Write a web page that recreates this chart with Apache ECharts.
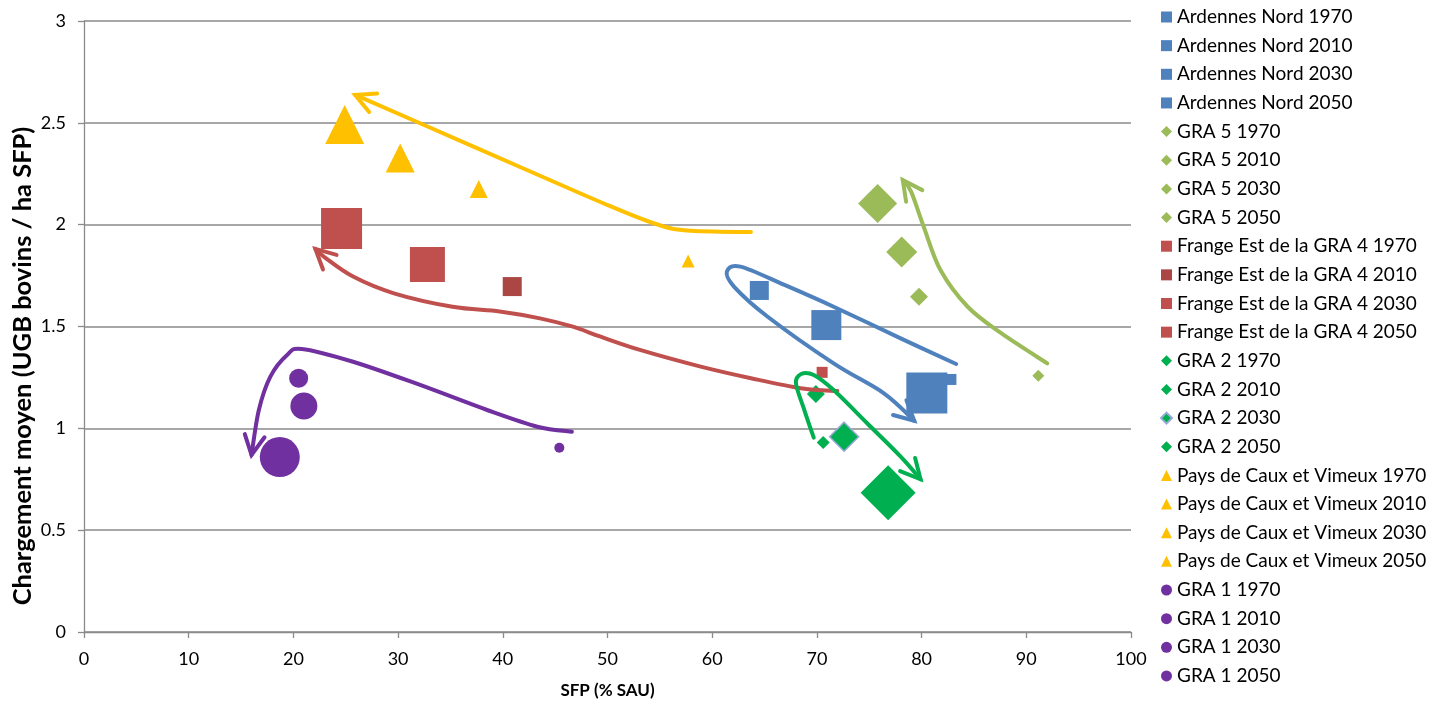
<!DOCTYPE html>
<html>
<head>
<meta charset="utf-8">
<script src="https://cdn.jsdelivr.net/npm/echarts@6/dist/echarts.min.js"></script>
<style>
html,body{margin:0;padding:0;background:#fff;}
#chart{width:1445px;height:708px;}
</style>
</head>
<body>
<div id="chart"></div>
<script>
// ---- Data ----
const years = ['1970', '2010', '2030', '2050'];

const ardennesX = [82.8, 64.5, 70.9, 80.5];
const ardennesY = [1.24, 1.677, 1.507, 1.173];
const ardennesSize = [11, 19, 30, 41];

const gra5X = [91.15, 79.75, 78.1, 75.8];
const gra5Y = [1.258, 1.646, 1.866, 2.104];
const gra5Size = [12, 18, 31, 39];

const frangeX = [70.5, 40.9, 32.8, 24.6];
const frangeY = [1.275, 1.696, 1.804, 1.981];
const frangeSize = [11, 19, 35, 41];

const gra2X = [70.6, 69.9, 72.6, 76.8];
const gra2Y = [0.931, 1.169, 0.959, 0.684];
const gra2Size = [13, 18, 29, 55];

const cauxX = [57.7, 37.7, 30.2, 24.9];
const cauxY = [1.821, 2.175, 2.327, 2.492];
const cauxSize = [13, 18, 29, 39];

const gra1X = [45.4, 20.5, 21.0, 18.7];
const gra1Y = [0.905, 1.246, 1.110, 0.859];
const gra1Size = [10, 19, 27, 40];

const xTicks = [0, 10, 20, 30, 40, 50, 60, 70, 80, 90, 100];
const yTicks = [0, 0.5, 1, 1.5, 2, 2.5, 3];

// Hand-drawn trajectory arrows (data coordinates)
const arrowCaux = [[63.7,1.964],[57.6,1.971],[54.4,2.007],[49.6,2.105],[41.7,2.282],[32.1,2.498],[25.9,2.637]];
const arrowFrange = [[71.95,1.183],[68.45,1.197],[63.7,1.246],[58.9,1.303],[53.1,1.385],[49.28,1.451],[46.7,1.499],[43.55,1.540],[39.7,1.574],[35.2,1.597],[29.6,1.663],[25.7,1.745],[22.9,1.843],[22.1,1.881]];
const arrowGra1 = [[46.6,0.983],[43.3,1.008],[38.5,1.090],[32.1,1.213],[25.7,1.327],[20.8,1.390],[19.4,1.360],[17.8,1.254],[16.7,1.090],[16.0,0.869]];
const arrowArdennes = [[83.3,1.316],[78.0,1.442],[71.6,1.597],[66.9,1.704],[62.7,1.794],[61.4,1.769],[62.1,1.695],[65.3,1.548],[71.6,1.319],[76.4,1.172],[79.3,1.037]];
const arrowGra2 = [[69.7,0.954],[68.8,1.090],[68.0,1.221],[68.5,1.267],[69.7,1.262],[71.6,1.188],[74.8,1.025],[78.0,0.861],[79.9,0.750]];
const arrowGra5 = [[92.0,1.319],[87.6,1.467],[84.4,1.597],[81.8,1.777],[80.2,1.990],[79.0,2.162],[78.2,2.219]];

// ---- Build ----
const FONT = 'Lato';
const groups = [
  {name: 'Ardennes Nord', xs: ardennesX, ys: ardennesY, sizes: ardennesSize, symbol: 'rect', colors: ['#4F81BD','#4F81BD','#4F81BD','#4F81BD']},
  {name: 'GRA 5', xs: gra5X, ys: gra5Y, sizes: gra5Size, symbol: 'diamond', colors: ['#9BBB59','#9BBB59','#9BBB59','#9BBB59']},
  {name: 'Frange Est de la GRA 4', xs: frangeX, ys: frangeY, sizes: frangeSize, symbol: 'rect', colors: ['#C0504D','#AA4643','#C0504D','#C0504D']},
  {name: 'GRA 2', xs: gra2X, ys: gra2Y, sizes: gra2Size, symbol: 'diamond', colors: ['#00B050','#00B050','#00B050','#00B050']},
  {name: 'Pays de Caux et Vimeux', xs: cauxX, ys: cauxY, sizes: cauxSize, symbol: 'triangle', colors: ['#FFC000','#FFC000','#FFC000','#FFC000']},
  {name: 'GRA 1', xs: gra1X, ys: gra1Y, sizes: gra1Size, symbol: 'circle', colors: ['#7030A0','#7030A0','#7030A0','#7030A0']}
];

const series = [];
const legendNames = [];
groups.forEach(g => {
  years.forEach((yr, i) => {
    const nm = g.name + ' ' + yr;
    legendNames.push(nm);
    const st = {color: g.colors[i], opacity: 1};
    if (g.name === 'GRA 2' && yr === '2030') {
      st.borderColor = '#98A8D8';
      st.borderWidth = 1.5;
    }
    series.push({
      type: 'scatter',
      name: nm,
      symbol: g.symbol,
      symbolSize: g.sizes[i],
      data: [[g.xs[i], g.ys[i]]],
      itemStyle: st,
      z: 2,
      emphasis: {disabled: true}
    });
  });
});

function splinePath(px) {
  let d = 'M' + px[0][0] + ' ' + px[0][1];
  for (let i = 0; i < px.length - 1; i++) {
    const p0 = px[i === 0 ? 0 : i - 1];
    const p1 = px[i];
    const p2 = px[i + 1];
    const p3 = px[i + 2 < px.length ? i + 2 : px.length - 1];
    const c1x = p1[0] + (p2[0] - p0[0]) / 6, c1y = p1[1] + (p2[1] - p0[1]) / 6;
    const c2x = p2[0] - (p3[0] - p1[0]) / 6, c2y = p2[1] - (p3[1] - p1[1]) / 6;
    d += ' C' + c1x + ' ' + c1y + ' ' + c2x + ' ' + c2y + ' ' + p2[0] + ' ' + p2[1];
  }
  return d;
}

function arrowSeries(points, color) {
  return {
    type: 'custom',
    coordinateSystem: 'cartesian2d',
    silent: true,
    z: 5,
    data: [[points[0][0], points[0][1]]],
    renderItem: function (params, api) {
      const px = points.map(p => api.coord(p));
      const tip = px[px.length - 1];
      const prev = px[px.length - 2];
      let bx = prev[0] - tip[0], by = prev[1] - tip[1];
      const len = Math.sqrt(bx * bx + by * by) || 1;
      bx /= len; by /= len;
      const ang = 27 * Math.PI / 180, L = 22;
      const rot = a => [tip[0] + L * (bx * Math.cos(a) - by * Math.sin(a)), tip[1] + L * (bx * Math.sin(a) + by * Math.cos(a))];
      return {
        type: 'group',
        children: [
          {type: 'path', shape: {pathData: splinePath(px)}, style: {stroke: color, lineWidth: 4, fill: null, lineCap: 'round', lineJoin: 'round'}},
          {type: 'polyline', shape: {points: [rot(ang), tip, rot(-ang)]}, style: {stroke: color, lineWidth: 4, fill: null, lineCap: 'round', lineJoin: 'miter'}}
        ]
      };
    }
  };
}
series.push(arrowSeries(arrowCaux, '#FFC000'));
series.push(arrowSeries(arrowFrange, '#C0504D'));
series.push(arrowSeries(arrowGra1, '#7030A0'));
series.push(arrowSeries(arrowArdennes, '#4F81BD'));
series.push(arrowSeries(arrowGra2, '#00B050'));
series.push(arrowSeries(arrowGra5, '#9BBB59'));

const chart = echarts.init(document.getElementById('chart'), null, {renderer: 'canvas'});
chart.setOption({
  animation: false,
  backgroundColor: '#fff',
  textStyle: {fontFamily: FONT},
  grid: {left: 84, top: 21, width: 1047, height: 611, containLabel: false},
  graphic: [{
    type: 'text',
    x: 23,
    y: 366,
    rotation: Math.PI / 2,
    style: {
      text: 'Chargement moyen (UGB bovins / ha SFP)',
      fontFamily: FONT, fontWeight: 'bold', fontSize: 25.5, fill: '#000',
      align: 'center', verticalAlign: 'middle'
    }
  }],
  legend: {
    data: legendNames,
    orient: 'vertical',
    left: 1155,
    top: 2.5,
    itemWidth: 11,
    itemHeight: 11,
    itemGap: 9.65,
    textStyle: {fontFamily: FONT, fontSize: 19, color: '#000'},
    selectedMode: false
  },
  xAxis: {
    type: 'value',
    min: xTicks[0],
    max: xTicks[xTicks.length - 1],
    interval: 10,
    name: 'SFP (% SAU)',
    nameLocation: 'middle',
    nameGap: 50,
    nameTextStyle: {fontFamily: FONT, fontWeight: 'bold', fontSize: 17, color: '#000'},
    axisLine: {show: true, lineStyle: {color: '#8a8a8a', width: 1.3}},
    axisTick: {show: true, length: 6, lineStyle: {color: '#8a8a8a', width: 1.3}},
    axisLabel: {fontFamily: FONT, fontSize: 18, color: '#000', margin: 18},
    splitLine: {show: false}
  },
  yAxis: {
    type: 'value',
    min: yTicks[0],
    max: yTicks[yTicks.length - 1],
    interval: 0.5,
    axisLine: {show: true, lineStyle: {color: '#8a8a8a', width: 1.3}},
    axisTick: {show: true, length: 6, lineStyle: {color: '#8a8a8a', width: 1.3}},
    axisLabel: {fontFamily: FONT, fontSize: 18, color: '#000', margin: 18},
    splitLine: {show: true, lineStyle: {color: '#8a8a8a', width: 1.6}}
  },
  series: series
});
</script>
</body>
</html>
